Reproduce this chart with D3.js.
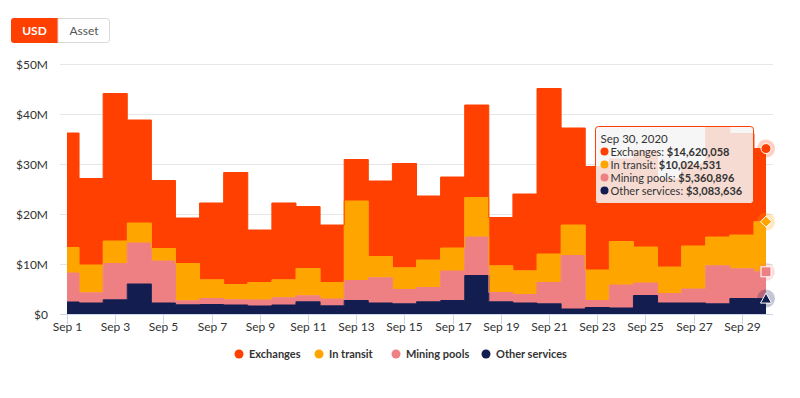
<!DOCTYPE html>
<html><head><meta charset="utf-8">
<script src="https://cdn.jsdelivr.net/npm/d3@7"></script>
<style>
body{margin:0;background:#fff;}
svg{display:block;font-family:Lato,"Noto Sans",sans-serif;}
</style></head>
<body><svg id="chart" width="800" height="398"></svg>
<script>
// ---- data (values in $ millions) ----
const days = d3.range(1, 31);
const dateLabels = days.map(d => new Date(2020, 8, d));
const exchanges     = [22.9,17.3,29.5,20.6,13.6,9.1,15.35,22.4,10.5,15.35,12.4,11.5,8.3,15.1,20.85,12.8,14.2,18.5,9.65,15.35,33.1,19.4,20.7,16.5,19.3,17.6,16.4,22.1,20.3,14.620058];
const inTransit     = [5.1,5.55,4.5,4.0,2.5,7.45,3.75,3.05,3.5,3.6,5.45,3.3,15.9,4.25,4.35,5.5,4.6,7.9,5.35,4.75,5.7,6.1,6.1,8.7,7.2,5.3,8.6,5.75,6.75,10.024531];
const miningPools   = [5.8,2.05,7.25,8.2,8.4,0.8,1.2,1.05,1.2,1.45,1.2,1.35,4.0,5.05,2.85,2.85,5.9,7.7,1.85,1.7,4.25,10.7,1.4,4.6,2.5,1.9,2.8,7.6,5.95,5.360896];
const otherServices = [2.4,2.2,2.85,6.0,2.2,1.85,1.9,1.8,1.6,1.8,2.45,1.65,2.7,2.2,2.05,2.45,2.7,7.7,2.45,2.2,2.05,1.0,1.3,1.2,3.7,2.2,2.2,2.05,3.1,3.083636];
const seriesNames = ["Exchanges","In transit","Mining pools","Other services"];
const seriesColors = ["#ff4000","#ffa500","#ee8084","#131d4f"];
const yTicks = [0,10,20,30,40,50];
const yTickLabels = ["$0","$10M","$20M","$30M","$40M","$50M"];
const xTickDays = d3.range(1, 30, 2);

const svg = d3.select("#chart");
const x = d3.scaleTime().domain([dateLabels[0], dateLabels[29]]).range([67, 766]);
const y = d3.scaleLinear().domain([0, 50]).range([314, 64]);
const gridX0 = 60, gridX1 = 773;

// buttons
const btn = svg.append("g");
btn.append("path").attr("d","M14,18 H58 V43 H14 Q11,43 11,40 V21 Q11,18 14,18 Z").attr("fill","#ff4000");
btn.append("path").attr("d","M58,18.5 H106.5 Q109.5,18.5 109.5,21.5 V39.5 Q109.5,42.5 106.5,42.5 H58 Z").attr("fill","#fff").attr("stroke","#d8d8d8");
btn.append("text").attr("x",34.5).attr("y",35).attr("text-anchor","middle").attr("fill","#fff").attr("font-size",12).attr("font-weight","bold").text("USD");
btn.append("text").attr("x",84).attr("y",35).attr("text-anchor","middle").attr("fill","#555").attr("font-size",12).text("Asset");

// grid
svg.append("g").selectAll("line").data(yTicks.slice(1)).join("line")
  .attr("x1",gridX0).attr("x2",gridX1).attr("y1",d=>y(d)+0.5).attr("y2",d=>y(d)+0.5)
  .attr("stroke","#e6e6e6");
svg.append("g").selectAll("text").data(yTicks).join("text")
  .attr("x",48).attr("y",d=>y(d)+4.5).attr("text-anchor","end")
  .attr("font-size",12).attr("fill","#333").text((d,i)=>yTickLabels[i]);

// stack
const table = days.map((d,i)=>({date:dateLabels[i], ex:exchanges[i], tr:inTransit[i], mp:miningPools[i], os:otherServices[i]}));
const keys = ["os","mp","tr","ex"];
const colorByKey = {ex:seriesColors[0], tr:seriesColors[1], mp:seriesColors[2], os:seriesColors[3]};
const stacked = d3.stack().keys(keys)(table);
const area = d3.area().curve(d3.curveStep).x(d=>x(d.data.date)).y0(d=>y(d[0])).y1(d=>y(d[1]));
const line = d3.line().curve(d3.curveStep).x(d=>x(d.data.date)).y(d=>y(d[1]));
svg.append("g").selectAll("path").data(stacked).join("path")
  .attr("d",area).attr("fill",d=>colorByKey[d.key]);
svg.append("g").selectAll("path").data(stacked).join("path")
  .attr("d",line).attr("fill","none").attr("stroke",d=>colorByKey[d.key]).attr("stroke-width",1);

// x axis
svg.append("line").attr("x1",gridX0).attr("x2",gridX1).attr("y1",314.5).attr("y2",314.5).attr("stroke","#ccd6eb");
const xt = svg.append("g").selectAll("g").data(xTickDays).join("g")
  .attr("transform",d=>`translate(${Math.round(x(new Date(2020,8,d)))+0.5},0)`);
xt.append("line").attr("y1",315).attr("y2",324).attr("stroke","#ccd6eb");
xt.append("text").attr("y",331).attr("text-anchor","middle").attr("font-size",12).attr("fill","#333").text(d=>"Sep "+d);

// hover markers at Sep 30
const last = 29, hx = x(dateLabels[last]);
const topEx = y(stacked[3][last][1]), topTr = y(stacked[2][last][1]), topMp = y(stacked[1][last][1]), topOs = y(stacked[0][last][1]);
const mk = svg.append("g");
[[topEx,seriesColors[0]],[topTr,seriesColors[1]],[topMp,seriesColors[2]],[topOs,seriesColors[3]]].forEach(([yy,c])=>{
  mk.append("circle").attr("cx",hx).attr("cy",yy).attr("r",9).attr("fill",c).attr("opacity",0.25);
});
mk.append("circle").attr("cx",hx).attr("cy",topEx).attr("r",5).attr("fill",seriesColors[0]).attr("stroke","#fff").attr("stroke-width",1);
mk.append("path").attr("d",`M${hx},${topTr-5.5} L${hx+5.5},${topTr} L${hx},${topTr+5.5} L${hx-5.5},${topTr} Z`).attr("fill",seriesColors[1]).attr("stroke","#fff").attr("stroke-width",1);
mk.append("rect").attr("x",hx-5).attr("y",topMp-5).attr("width",10).attr("height",10).attr("fill",seriesColors[2]).attr("stroke","#fff").attr("stroke-width",1);
mk.append("path").attr("d",`M${hx},${topOs-5.5} L${hx+5.5},${topOs+4.5} L${hx-5.5},${topOs+4.5} Z`).attr("fill",seriesColors[3]).attr("stroke","#fff").attr("stroke-width",1);

// tooltip
const tt = svg.append("g").attr("transform","translate(595.5,126.5)");
tt.append("rect").attr("x",1).attr("y",1).attr("width",158).attr("height",77).attr("rx",3).attr("fill","#000").attr("opacity",0.06);
tt.append("rect").attr("width",158).attr("height",77).attr("rx",3).attr("fill","rgba(247,247,247,0.85)").attr("stroke",seriesColors[0]).attr("stroke-width",1);
tt.append("text").attr("x",5).attr("y",16).attr("font-size",11.5).attr("fill","#333").text(d3.timeFormat("%b %-d, %Y")(dateLabels[last]));
const fmt = d3.format(",");
const ttVals = [exchanges[last], inTransit[last], miningPools[last], otherServices[last]];
ttVals.forEach((v,i)=>{
  const yy = 29 + i*13;
  tt.append("circle").attr("cx",9).attr("cy",yy-4).attr("r",4).attr("fill",seriesColors[i]);
  const t = tt.append("text").attr("x",15).attr("y",yy).attr("font-size",11).attr("fill","#333");
  t.append("tspan").text(seriesNames[i]+": ");
  t.append("tspan").attr("font-weight","bold").text("$"+fmt(Math.round(v*1e6)));
});

// legend
const legX = [239, 319, 396, 486];
const lg = svg.append("g").selectAll("g").data(seriesNames).join("g")
  .attr("transform",(d,i)=>`translate(${legX[i]},354)`);
lg.append("circle").attr("r",4.5).attr("fill",(d,i)=>seriesColors[i]);
lg.append("text").attr("x",10).attr("y",4).attr("font-size",11).attr("font-weight","bold").attr("fill","#333").text(d=>d);
</script></body></html>
